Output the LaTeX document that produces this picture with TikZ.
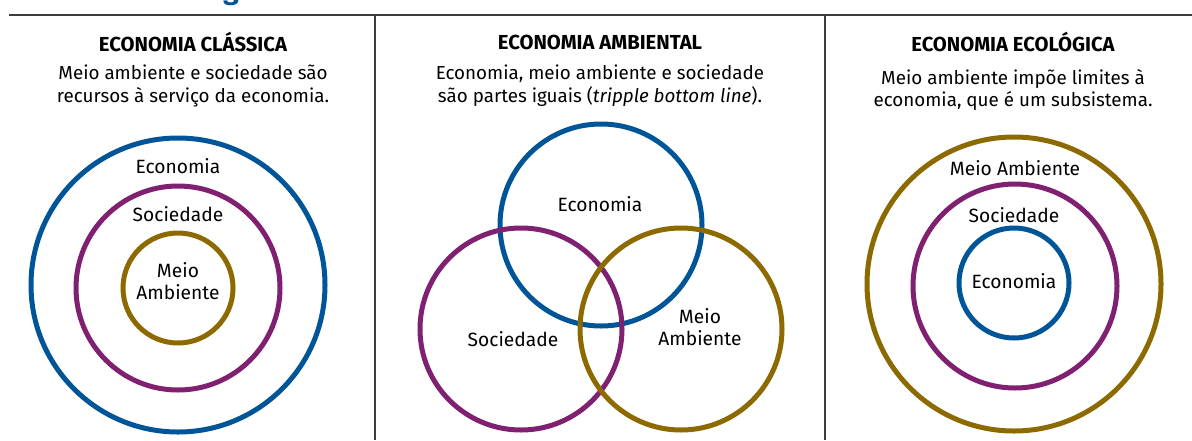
\documentclass[tikz,border=0pt]{standalone}
\usepackage{fontspec}
\setmainfont{Fira Sans}
\definecolor{cblue}{RGB}{0,85,152}
\definecolor{cpurple}{RGB}{128,32,112}
\definecolor{cgold}{RGB}{140,106,0}
\definecolor{rule}{RGB}{60,60,60}
\begin{document}
\begin{tikzpicture}[x=0.75pt,y=-0.75pt,
  ring/.style={draw=#1,line width=3.75pt,circle,inner sep=0pt},
  title/.style={font=\fontsize{15.2}{18}\selectfont\bfseries,text=black},
  body/.style={font=\fontsize{14.1}{17}\selectfont,align=center,text=black},
  lbl/.style={font=\fontsize{14.4}{16.8}\selectfont,align=center,text=black},
  sep/.style={draw=rule,line width=0.9pt}]
\useasboundingbox (0,0) rectangle (1192,440);
% cut-off heading fragment
\node[anchor=base,text=cblue,font=\fontsize{21}{24}\selectfont\bfseries,inner sep=0pt] (head) at (231,-1) {g};
% rules
\coordinate (hl) at (9,15);
\coordinate (hr) at (1192,15);
\coordinate (v1t) at (375,15);
\coordinate (v1b) at (375,440);
\coordinate (v2t) at (825,15);
\coordinate (v2b) at (825,440);
\draw[sep] (hl) -- (hr);
\draw[sep] (v1t) -- (v1b);
\draw[sep] (v2t) -- (v2b);
% titles
\node[title] (t1) at (193,42) {ECONOMIA CLÁSSICA};
\node[title] (t2) at (600,42) {ECONOMIA AMBIENTAL};
\node[title] (t3) at (1013,42) {ECONOMIA ECOLÓGICA};
\node[body] (b1) at (193,86) {Meio ambiente e sociedade são\\recursos à serviço da economia.};
\node[body] (b2) at (600,86) {Economia, meio ambiente e sociedade\\são partes iguais (\textit{tripple bottom line}).};
\node[body] (b3) at (1013,90) {Meio ambiente impõe limites à\\economia, que é um subsistema.};
% left panel
\node[ring=cblue,minimum size=220.5pt] (l1) at (178,285) {};
\node[ring=cpurple,minimum size=153pt] (l2) at (178,288) {};
\node[ring=cgold,minimum size=82.5pt] (l3) at (178,288) {};
\node[lbl] (l1t) at (178,166) {Economia};
\node[lbl] (l2t) at (178,214) {Sociedade};
\node[lbl] (l3t) at (178,281) {Meio\\Ambiente};
% middle panel
\node[ring=cblue,minimum size=151.5pt] (m1) at (601,225) {};
\node[ring=cpurple,minimum size=151.5pt] (m2) at (521,329) {};
\node[ring=cgold,minimum size=151.5pt] (m3) at (681,329) {};
\node[lbl] (m1t) at (600,204) {Economia};
\node[lbl] (m2t) at (513,339) {Sociedade};
\node[lbl] (m3t) at (700,327) {Meio\\Ambiente};
% right panel
\node[ring=cgold,minimum size=220.5pt] (r1) at (1014,284) {};
\node[ring=cpurple,minimum size=153pt] (r2) at (1015,286) {};
\node[ring=cblue,minimum size=82.5pt] (r3) at (1014,283) {};
\node[lbl] (r1t) at (1015,168) {Meio Ambiente};
\node[lbl] (r2t) at (1014,215) {Sociedade};
\node[lbl] (r3t) at (1014,281) {Economia};
\end{tikzpicture}
\end{document}
